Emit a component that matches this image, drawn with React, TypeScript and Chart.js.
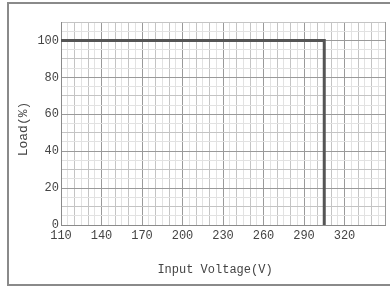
import React, { useEffect, useRef } from "react";
import { Chart, registerables } from "chart.js";

Chart.register(...registerables);

// Data
const voltage = [110, 305, 305];
const load = [100, 100, 0];
const xTickLabels = [110, 140, 170, 200, 230, 260, 290, 320];
const yTickLabels = [0, 20, 40, 60, 80, 100];
const xTitle = "Input Voltage(V)";
const yTitle = "Load(%)";

const FONT = "'Liberation Mono', 'DejaVu Sans Mono', monospace";

function xGridColor(v: number) {
  if ((v - 110) % 30 === 0) return "#9a9a9a";
  if (v % 10 === 0) return "#c4c4c4";
  return "#e2e2e2";
}
function yGridColor(v: number) {
  if (v % 20 === 0) return "#9a9a9a";
  if (v % 10 === 0) return "#c4c4c4";
  return "#e2e2e2";
}

const framePlugin = {
  id: "frameAndTitles",
  afterDraw(chart: any) {
    const { ctx, chartArea } = chart;
    ctx.save();
    ctx.strokeStyle = "#8a8a8a";
    ctx.lineWidth = 2;
    ctx.beginPath();
    ctx.moveTo(390, 3);
    ctx.lineTo(8, 3);
    ctx.lineTo(8, 285);
    ctx.lineTo(390, 285);
    ctx.stroke();

    ctx.fillStyle = "#444";
    ctx.font = "12px " + FONT;
    ctx.textAlign = "center";
    ctx.textBaseline = "middle";
    ctx.fillText(xTitle, chartArea.left + 154, chartArea.bottom + 45);
    ctx.translate(chartArea.left - 37, chartArea.top + 107);
    ctx.rotate(-Math.PI / 2);
    ctx.font = "13px " + FONT;
    ctx.fillText(yTitle, 0, 0);
    ctx.restore();
  },
};

export default function App() {
  const ref = useRef<HTMLCanvasElement | null>(null);
  useEffect(() => {
    document.body.style.margin = "0";
    const chart = new Chart(ref.current!, {
      type: "line",
      data: {
        datasets: [
          {
            data: voltage.map((v, i) => ({ x: v, y: load[i] })),
            borderColor: "#555",
            borderWidth: 3,
            pointRadius: 0,
            fill: false,
            tension: 0,
          },
        ],
      },
      options: {
        responsive: false,
        animation: false,
        devicePixelRatio: 1,
        layout: { padding: { left: 0, top: 22, right: 5, bottom: 0 } },
        plugins: { legend: { display: false }, tooltip: { enabled: false } },
        scales: {
          x: {
            type: "linear",
            min: 110,
            max: 350,
            afterFit: (s: any) => {
              s.height = 62;
            },
            grid: {
              color: (c: any) => xGridColor(c.tick.value),
              drawTicks: false,
              lineWidth: 1,
            },
            border: { display: true, color: "#8a8a8a", width: 1 },
            ticks: {
              stepSize: 5,
              autoSkip: false,
              maxRotation: 0,
              padding: 4,
              color: "#444",
              font: { family: FONT, size: 12 },
              callback: (v: any) => (xTickLabels.includes(Number(v)) ? String(v) : ""),
            },
          },
          y: {
            type: "linear",
            min: 0,
            max: 110,
            afterFit: (s: any) => {
              s.width = 61;
            },
            grid: {
              color: (c: any) => yGridColor(c.tick.value),
              drawTicks: false,
              lineWidth: 1,
            },
            border: { display: true, color: "#8a8a8a", width: 1 },
            ticks: {
              stepSize: 5,
              autoSkip: false,
              padding: 2,
              color: "#444",
              font: { family: FONT, size: 12 },
              callback: (v: any) => (yTickLabels.includes(Number(v)) ? String(v) : ""),
            },
          },
        },
      },
      plugins: [framePlugin],
    });
    return () => chart.destroy();
  }, []);
  return (
    <div style={{ position: "absolute", left: 0, top: 0, width: 390, height: 287, background: "#fff" }}>
      <canvas ref={ref} width={390} height={287} />
    </div>
  );
}
